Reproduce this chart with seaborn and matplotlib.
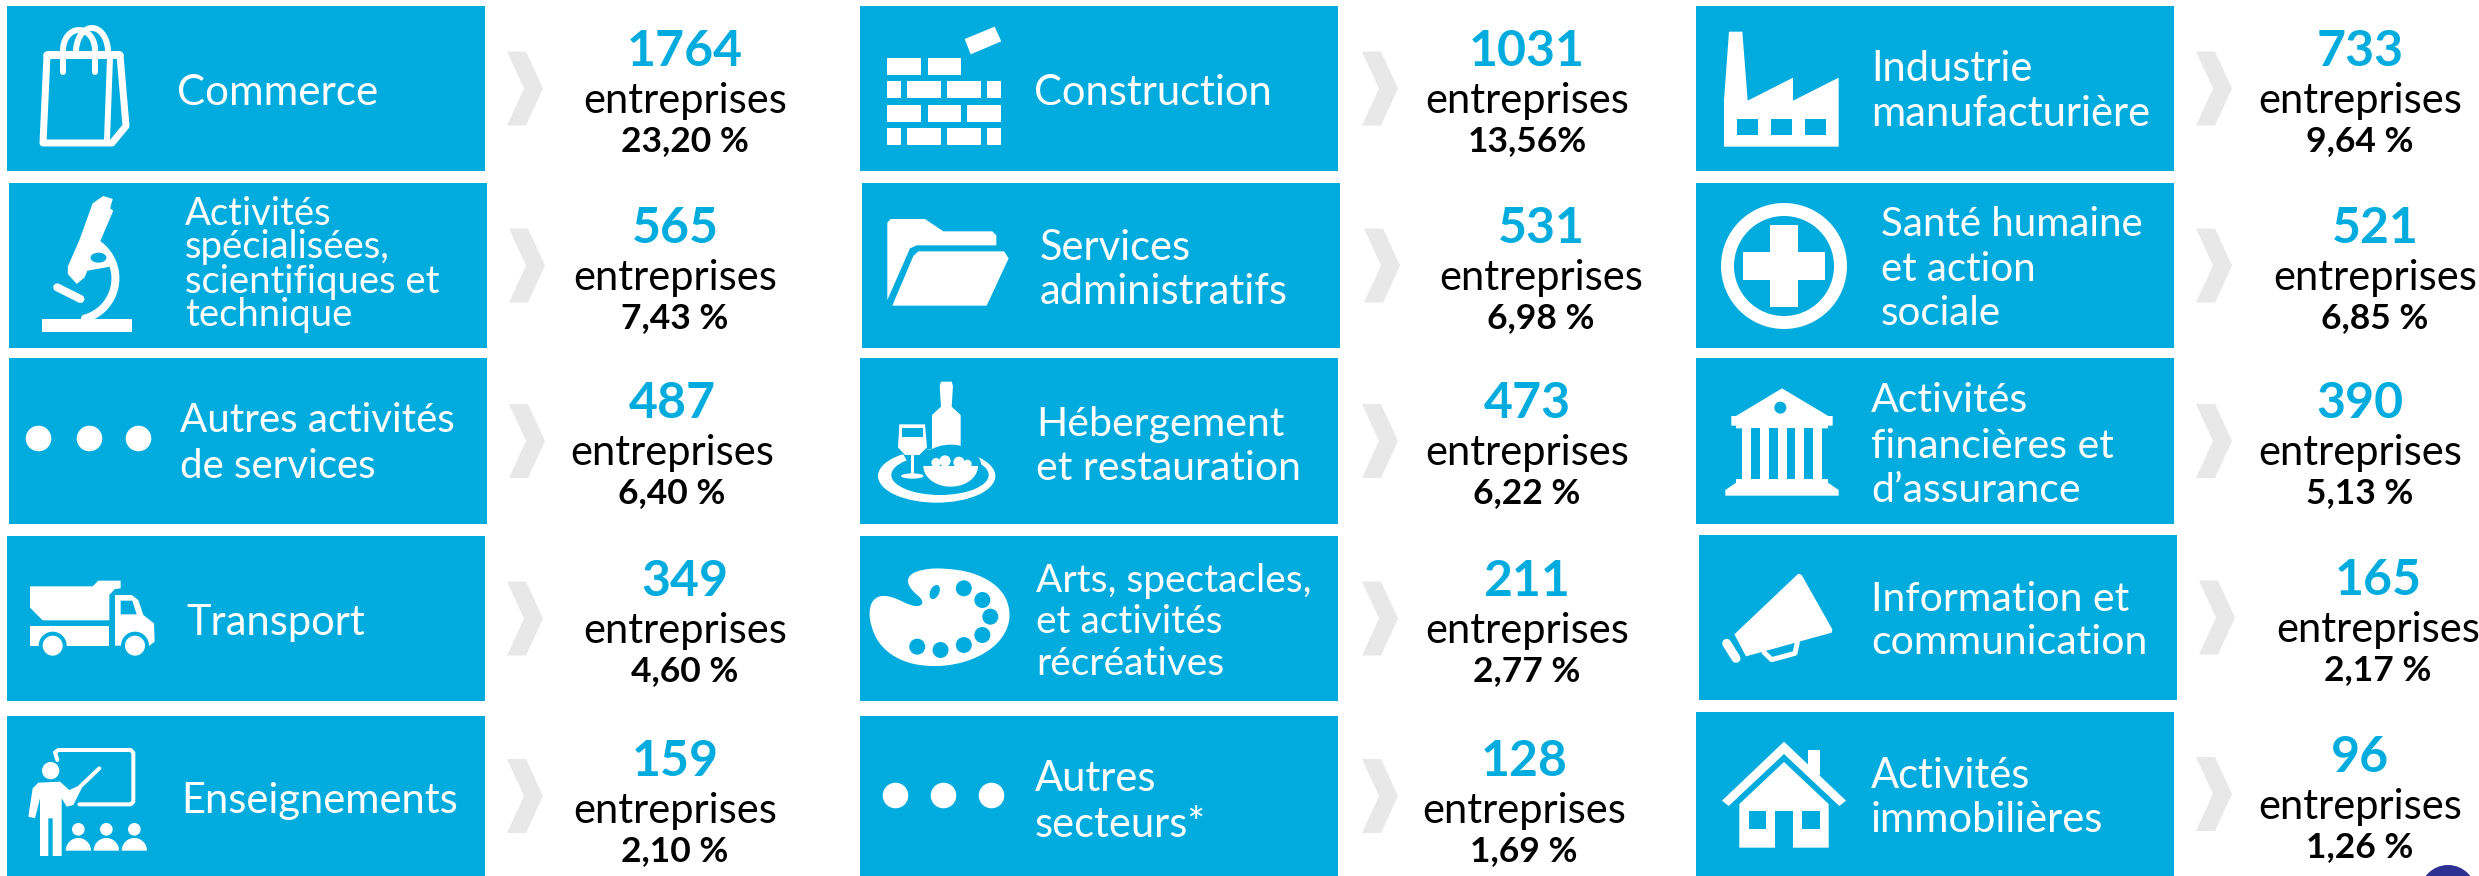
import numpy as np
import pandas as pd
import matplotlib
matplotlib.use("Agg")
import matplotlib.pyplot as plt
from matplotlib.patches import Rectangle, Polygon, Circle, Ellipse
import seaborn as sns

# ---- data ----
sectors = ["Commerce", "Construction", "Industrie\nmanufacturière",
           "Activités\nspécialisées,\nscientifiques et\ntechnique", "Services\nadministratifs", "Santé humaine\net action\nsociale",
           "Autres activités\nde services", "Hébergement\net restauration", "Activités\nfinancières et\nd’assurance",
           "Transport", "Arts, spectacles,\net activités\nrécréatives", "Information et\ncommunication",
           "Enseignements", "Autres\nsecteurs*", "Activités\nimmobilières"]
counts = ["1764", "1031", "733", "565", "531", "521", "487", "473", "390", "349", "211", "165", "159", "128", "96"]
shares = ["23,20 %", "13,56%", "9,64 %", "7,43 %", "6,98 %", "6,85 %", "6,40 %", "6,22 %", "5,13 %",
          "4,60 %", "2,77 %", "2,17 %", "2,10 %", "1,69 %", "1,26 %"]
unit = "entreprises"

# ---- layout (pixels) ----
W, H = 2479, 876
BLUE, WHITE, GREY, NAVY = "#00ABDE", "#FFFFFF", "#E8E8E8", "#2E3192"
tile_left = [7, 860, 1696, 9, 862, 1696, 9, 860, 1696, 7, 860, 1699, 7, 860, 1696]
tile_top = [6, 6, 6, 183, 183, 183, 358, 358, 358, 536, 536, 535, 716, 716, 712]
tile_bot = [171, 171, 171, 348, 348, 348, 524, 524, 524, 701, 701, 700, 876, 876, 876]
tile_w = 478
chev_off = [500, 502, 500]
num_x = [685, 1527, 2360, 675, 1541, 2375, 672, 1527, 2360, 685, 1527, 2378, 675, 1524, 2360]
label_x = [177, 1034, 1871, 185, 1040, 1881, 180, 1036, 1871, 186, 1036, 1871, 181, 1035, 1871]
label_cy = [[94], [94], [70, 115],
            [215, 248, 283, 316], [249, 293], [225, 270, 314],
            [421, 467], [425, 469], [401, 447, 491],
            [624], [582, 623, 665], [600, 643],
            [802], [780, 826], [777, 821]]
label_fs = [30.3, 30, 30, 27.5, 30, 29, 29, 29.5, 29.5, 30, 28, 29.5, 30, 30, 30]

sns.set_theme(style="white")
plt.rcParams["font.family"] = ["Lato", "DejaVu Sans"]
fig = plt.figure(figsize=(W / 100, H / 100), dpi=100, facecolor="white")
ax = fig.add_axes([0, 0, 1, 1])


def pts(ox, oy, p, sx=3.0, sy=3.0):
    return [(ox + x / sx, oy + y / sy) for x, y in p]


def smooth(p, n=3):
    p = np.asarray(p, float)
    for _ in range(n):
        q = np.roll(p, -1, axis=0)
        p = np.column_stack([0.75 * p + 0.25 * q, 0.25 * p + 0.75 * q]).reshape(-1, 2)
    return p


def poly(ox, oy, p, c=WHITE, z=3, sx=3.0, sy=3.0, sm=False):
    q = pts(ox, oy, p, sx, sy)
    ax.add_patch(Polygon(smooth(q) if sm else q, closed=True, fc=c, ec="none", zorder=z))


def rect(ox, oy, x0, y0, x1, y1, c=WHITE, z=3, sx=3.0, sy=3.0):
    ax.add_patch(Rectangle((ox + x0 / sx, oy + y0 / sy), (x1 - x0) / sx, (y1 - y0) / sy, fc=c, ec="none", zorder=z))


def circ(ox, oy, cx, cy, r, c=WHITE, z=3, sx=3.0, sy=3.0):
    ax.add_patch(Ellipse((ox + cx / sx, oy + cy / sy), 2 * r / sx, 2 * r / sy, fc=c, ec="none", zorder=z))


def ell(ox, oy, cx, cy, rx, ry, c=WHITE, z=3):
    ax.add_patch(Ellipse((ox + cx / 3, oy + cy / 3), 2 * rx / 3, 2 * ry / 3, fc=c, ec="none", zorder=z))


def path(ox, oy, p, lw, c=WHITE, z=3, sx=3.0, sy=3.0, closed=False):
    q = np.array(pts(ox, oy, p, sx, sy))
    if closed:
        q = np.vstack([q, q[:1], q[1:2]])
    ax.plot(q[:, 0], q[:, 1], color=c, lw=lw * 0.72, zorder=z, solid_capstyle="round", solid_joinstyle="round")


def arc(cx, cy, rx, ry, t0, t1, n=40):
    t = np.radians(np.linspace(t0, t1, n))
    return list(zip(cx + rx * np.cos(t), cy + ry * np.sin(t)))


# ---- tiles, chevrons, texts ----
for i in range(15):
    col = i % 3
    x0, y0, y1 = tile_left[i], tile_top[i], tile_bot[i]
    ax.add_patch(Rectangle((x0, y0), tile_w, y1 - y0, fc=BLUE, ec="none", zorder=1))
    cx = x0 + chev_off[col]
    cy = (y0 + y1) / 2
    ax.add_patch(Polygon([(cx, cy - 37), (cx + 19, cy - 37), (cx + 36, cy), (cx + 19, cy + 37), (cx, cy + 37), (cx + 17, cy)],
                         closed=True, fc=GREY, ec="none", zorder=1))
    ax.text(num_x[i], y0 + 60, counts[i], color=BLUE, fontsize=36, fontweight="bold", ha="center", va="baseline", zorder=4)
    ax.text(num_x[i], y0 + 107, unit, color="black", fontsize=30, ha="center", va="baseline", zorder=4)
    ax.text(num_x[i], y0 + 145, shares[i], color="black", fontsize=25.5, fontweight="bold", ha="center", va="baseline", zorder=4)
    for line, yc in zip(sectors[i].split("\n"), label_cy[i]):
        ax.text(label_x[i], yc + 0.37 * label_fs[i] * 100 / 72 * 0.72, line, color=WHITE, fontsize=label_fs[i],
                ha="left", va="baseline", zorder=4)

# ---- icons ----
# bag
path(0, 0, [(47, 55), (120, 55), (126, 126), (112, 143), (43, 143)], 7, sx=1, sy=1, closed=True)
path(0, 0, [(110, 57), (107, 140)], 6, sx=1, sy=1)
path(0, 0, arc(79, 50, 16, 20, 180, 360), 6, sx=1, sy=1)
path(0, 0, arc(92, 52, 16, 24, 180, 360), 6, sx=1, sy=1)
path(0, 0, [(63, 50), (63, 72)], 6, sx=1, sy=1)
path(0, 0, [(95, 50), (95, 72)], 6, sx=1, sy=1)
# bricks
for b in [(81, 174, 183, 224), (203, 174, 303, 224),
          (81, 243, 123, 294), (141, 243, 243, 294), (262, 243, 363, 294), (382, 243, 423, 294),
          (81, 315, 183, 366), (203, 315, 303, 366), (321, 315, 423, 366),
          (81, 384, 123, 435), (141, 384, 243, 435), (262, 384, 363, 435), (381, 384, 423, 435)]:
    rect(860, 0, *b)
poly(860, 0, [(314, 117), (404, 80), (424, 124), (332, 163)])
# factory
poly(1690, 0, [(117, 95), (157, 95), (173, 302), (309, 233), (309, 302), (446, 233), (446, 440), (102, 440), (102, 300)])
for b in [(142, 358, 204, 405), (243, 358, 305, 405), (345, 358, 407, 405)]:
    rect(1690, 0, *b, c=BLUE, z=4)
# microscope
ms = dict(sx=1.889, sy=3.0)
rect(0, 0, 80, 958, 250, 997, **ms)
poly(0, 0, [(175, 610), (195, 588), (213, 597), (208, 625), (214, 632), (185, 740), (205, 750), (208, 800), (165, 812),
            (160, 832), (145, 852), (128, 822), (128, 800), (150, 720)], **ms)
path(0, 0, arc(140, 835, 78, 125, -55, 75), 8, **ms)
circ(0, 0, 186, 773, 24, z=4, **ms)
circ(0, 0, 186, 773, 15, c=BLUE, z=5, **ms)
path(0, 0, [(108, 862), (152, 897)], 8, **ms)
# folder
poly(860, 180, [(82, 128), (92, 117), (195, 117), (250, 154), (397, 154), (409, 166), (409, 196), (170, 196), (150, 205), (82, 360)])
poly(860, 180, [(160, 228), (175, 214), (432, 214), (446, 235), (380, 377), (97, 377)])
# cross in circle
ax.add_patch(Circle((1784, 266), 63, fc=WHITE, ec="none", zorder=3))
ax.add_patch(Circle((1784, 266), 50, fc=BLUE, ec="none", zorder=4))
ax.add_patch(Rectangle((1770, 225), 28, 82, fc=WHITE, ec="none", zorder=5))
ax.add_patch(Rectangle((1743, 252), 82, 28, fc=WHITE, ec="none", zorder=5))
# plate, glass, bottle, bowl
ell(860, 360, 230, 348, 176, 80)
ell(860, 360, 240, 345, 146, 60, c=BLUE, z=3.1)
poly(860, 360, [(122, 270), (330, 270), (315, 282), (300, 320), (150, 320), (135, 292)], c=BLUE, z=3.2)
poly(860, 360, [(243, 65), (275, 65), (279, 78), (275, 140), (302, 165), (302, 295), (216, 295), (216, 165), (243, 140), (239, 78)], z=3.3)
poly(860, 360, [(118, 193), (195, 193), (201, 262), (178, 285), (135, 285), (114, 262)], z=3.3)
rect(860, 360, 127, 204, 188, 232, c=BLUE, z=3.4)
rect(860, 360, 152, 285, 163, 345, z=3.3)
ell(860, 360, 157, 348, 34, 8, z=3.3)
ell(860, 360, 272, 318, 92, 64, c=BLUE, z=3.4)
poly(860, 360, arc(272, 318, 82, 62, 0, 180), z=3.5)
for c_ in [(228, 308, 14), (255, 303, 17), (297, 307, 17), (322, 312, 13)]:
    circ(860, 360, *c_, z=3.45)
# bank
poly(1690, 360, [(276, 85), (415, 168), (428, 168), (428, 197), (414, 197), (414, 205), (138, 205), (138, 197), (124, 197), (124, 168), (138, 168)])
circ(1690, 360, 271, 143, 18, c=BLUE, z=4)
rect(1690, 360, 155, 205, 397, 360)
for b in [(182, 205, 209, 357), (236, 205, 263, 357), (290, 205, 316, 357), (343, 205, 370, 357)]:
    rect(1690, 360, *b, c=BLUE, z=4)
poly(1690, 360, [(138, 357), (414, 357), (414, 368), (446, 390), (446, 407), (106, 407), (106, 390), (138, 368)])
# truck
poly(10, 535, [(60, 154), (248, 154), (265, 137), (332, 137), (332, 160), (315, 162), (298, 180), (298, 256), (98, 256), (60, 218)])
rect(10, 535, 60, 272, 298, 332)
poly(10, 535, [(315, 180), (365, 180), (385, 195), (400, 240), (432, 265), (434, 320), (418, 332), (315, 332)])
poly(10, 535, [(332, 197), (367, 197), (380, 238), (332, 238)], c=BLUE, z=4)
for cx_ in (128, 375):
    circ(10, 535, cx_, 332, 42, c=BLUE, z=4)
    circ(10, 535, cx_, 332, 30, z=5)
# palette
pal = dict(sx=1.889, sy=3.0)
poly(850, 520, [(108, 170), (130, 150), (172, 143), (238, 158), (290, 210), (306, 292), (284, 368), (234, 420), (170, 442), (104, 430),
                (56, 380), (35, 300), (40, 238), (70, 222), (125, 265), (142, 245), (112, 205)], sm=True, **pal)
for cx_, cy_ in [(215, 205), (250, 240), (265, 290), (250, 345), (215, 375), (171, 390), (127, 380)]:
    ax.add_patch(Ellipse((850 + cx_ / 1.889, 520 + cy_ / 3), 16, 16, fc=BLUE, ec="none", zorder=4))
ax.add_patch(Ellipse((850 + 160 / 1.889, 520 + 216 / 3), 9, 15, angle=25, fc=BLUE, ec="none", zorder=4))
# megaphone
poly(1690, 535, [(133, 298), (325, 116), (335, 120), (427, 283), (425, 293), (168, 364)])
path(1690, 535, [(110, 325), (138, 370)], 9)
path(1690, 535, [(222, 352), (245, 374), (315, 355), (322, 322)], 5)
# teacher
path(10, 710, [(142, 150), (135, 127), (145, 120), (362, 120), (370, 128), (370, 275), (362, 283), (208, 283)], 4)
path(10, 710, [(205, 235), (268, 175)], 4)
circ(10, 710, 122, 182, 26)
poly(10, 710, [(85, 218), (150, 215), (178, 240), (200, 230), (215, 235), (190, 285), (170, 290), (155, 265), (155, 438), (128, 438),
               (128, 325), (115, 325), (115, 438), (90, 438), (90, 265), (75, 325), (55, 320), (68, 235)])
for cx_ in (205, 289, 373):
    circ(10, 710, cx_, 358, 19)
    poly(10, 710, arc(cx_, 422, 38, 38, 180, 360))
# house
poly(1690, 710, [(282, 95), (468, 272), (448, 288), (282, 132), (116, 288), (96, 272)])
rect(1690, 710, 354, 120, 389, 195)
poly(1690, 710, [(282, 156), (416, 282), (416, 413), (309, 413), (309, 303), (255, 303), (255, 413), (148, 413), (148, 282)])
for b in [(176, 303, 229, 356), (336, 303, 389, 356)]:
    rect(1690, 710, *b, c=BLUE, z=4)

# three-dot icons
dots = pd.DataFrame({"x": [38, 89, 138, 895, 943, 991], "y": [438, 438, 438, 795, 795, 795]})
sns.scatterplot(data=dots, x="x", y="y", s=340, color=WHITE, linewidth=0, legend=False, ax=ax, zorder=3)

# corner circle
ax.add_patch(Circle((2448, 893), 28, fc=NAVY, ec="none", zorder=3))

ax.set_xlim(0, W)
ax.set_ylim(H, 0)
ax.set_xlabel("")
ax.set_ylabel("")
ax.axis("off")
fig.savefig("out.png", dpi=100, facecolor="white")
